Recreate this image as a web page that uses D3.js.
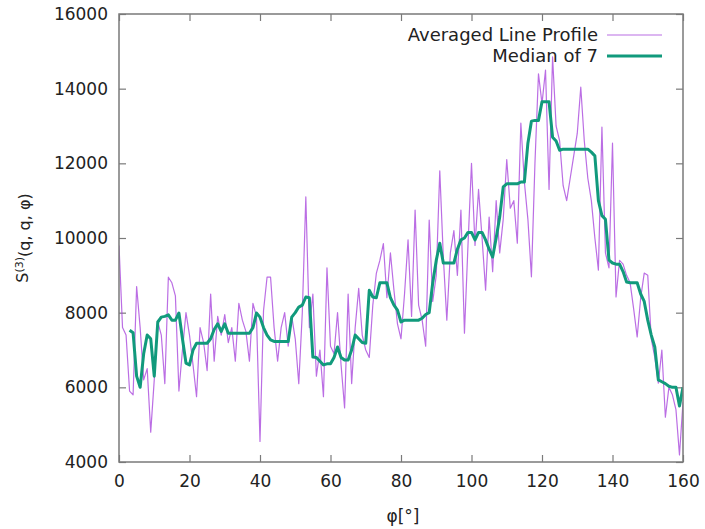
<!DOCTYPE html>
<html>
<head>
<meta charset="utf-8">
<script src="https://cdn.jsdelivr.net/npm/d3@7"></script>
<style>
  html, body { margin: 0; padding: 0; background: #fff; }
  svg { display: block; }
  text { font-family: "DejaVu Sans", sans-serif; fill: #222; }
</style>
</head>
<body>
<svg id="chart" width="705" height="529"></svg>
<script>
// ---- data ----
const profilePhi = d3.range(0, 161); // 0..160 degrees, 1° step (category positions)
const profileValues = [
  9800, 7600, 7400, 5900, 5800, 8700, 7600, 6200, 6500, 4800,
  6200, 7750, 7400, 6100, 8950, 8800, 8450, 5900, 7000, 8000,
  7400, 6600, 5750, 7600, 7200, 6450, 8500, 6700, 7900, 7400,
  7950, 7200, 7600, 6700, 8250, 7800, 7500, 6700, 8250, 7900,
  4550, 8050, 8950, 8950, 7600, 6700, 7600, 8000, 7100, 7900,
  7300, 6100, 8000, 11100, 7600, 8500, 6300, 7000, 5750, 9200,
  7100, 6900, 8000, 6600, 5450, 8500, 6100, 7600, 8650, 7400,
  7000, 6800, 8200, 9050, 9400, 9850, 8400, 9600, 8600, 7700,
  7300, 8500, 9950, 7900, 10750, 8200, 7800, 7100, 10480, 8300,
  9000, 11800, 9500, 7800, 9600, 10200, 9000, 10750, 7450, 9800,
  12000, 9800, 11300, 10000, 8600, 10560, 9100, 11000, 9600, 10500,
  12100, 10800, 11000, 9860, 13080, 11500, 10500, 8960, 12000, 14400,
  13600, 14500, 11300, 14850, 13000, 12600, 11400, 11000, 11600, 12200,
  12800, 14040, 12600, 11600, 11000, 10000, 9140, 12970, 9600, 9200,
  12540, 8420, 9400, 9300, 9000, 8800, 8100, 7350, 8400, 9060,
  9000, 7300, 6800, 6110, 7000, 5200, 6000, 5800, 5400, 4190,
  5600
];
const medianPhi = d3.range(3, 161);
const medianValues = [
  7530, 7460, 6300, 6000, 6900, 7400, 7300, 6300, 7750, 7880,
  7900, 7940, 7800, 7800, 7990, 7300, 6650, 6600, 7000, 7180,
  7180, 7180, 7180, 7300, 7550, 7700, 7500, 7700, 7450, 7450,
  7450, 7450, 7450, 7450, 7450, 7600, 7990, 7880, 7600, 7400,
  7270, 7230, 7230, 7230, 7230, 7230, 7880, 8000, 8150, 8200,
  8420, 8400, 6810, 6800, 6700, 6600, 6630, 6630, 6800, 7080,
  6800, 6730, 6730, 7000, 7400, 7300, 7200, 7180, 8600, 8420,
  8400, 8800, 8800, 8800, 8400, 8200, 8070, 7750, 7800, 7800,
  7800, 7800, 7800, 7850, 7950, 8000, 8800, 9400, 9860, 9330,
  9330, 9330, 9330, 9700, 9950, 10000, 10150, 10150, 9950, 10150,
  10150, 9950, 9700, 9490, 10000, 10560, 11370, 11450, 11450, 11450,
  11450, 11500, 11500, 12540, 13130, 13150, 13150, 13650, 13650, 13650,
  12700, 12600, 12350, 12380, 12380, 12380, 12380, 12380, 12380, 12380,
  12380, 12300, 12200, 11000, 10600, 10500, 9410, 9330, 9300, 9300,
  9100, 8820, 8800, 8800, 8800, 8500, 8300, 7800, 7400, 7080,
  6200, 6150, 6100, 6030, 6000, 6000, 5500, 6000
];
const xTicks = [0, 20, 40, 60, 80, 100, 120, 140, 160];
const yTicks = [4000, 6000, 8000, 10000, 12000, 14000, 16000];
const seriesNames = ["Averaged Line Profile", "Median of 7"];
const seriesColors = ["#a43ddb", "#119a7c"];

// ---- layout ----
const svg = d3.select("#chart");
const L = 119, R = 683, T = 14, B = 462;
const x = d3.scaleLinear().domain([0, 160]).range([L, R]);
const y = d3.scaleLinear().domain([4000, 16000]).range([B, T]);

const borderColor = "#7a7a7a";
const tickLen = 7;
const fontSize = "17px";

// clip
svg.append("defs").append("clipPath").attr("id", "clip")
  .append("rect").attr("x", L).attr("y", T).attr("width", R - L).attr("height", B - T);

// axes (ticks inward, mirrored)
const axB = d3.axisBottom(x).tickValues(xTicks).tickSize(-tickLen).tickPadding(13).tickFormat(d3.format("d"));
const axT = d3.axisTop(x).tickValues(xTicks).tickSize(-tickLen).tickFormat("");
const axL = d3.axisLeft(y).tickValues(yTicks).tickSize(-tickLen).tickPadding(11).tickFormat(d3.format("d"));
const axR = d3.axisRight(y).tickValues(yTicks).tickSize(-tickLen).tickFormat("");

function styleAxis(g) {
  g.select(".domain").remove();
  g.selectAll(".tick line").attr("stroke", borderColor).attr("stroke-width", 1.2);
  g.selectAll(".tick text").style("font-family", '"DejaVu Sans", sans-serif')
    .style("font-size", fontSize).attr("fill", "#222");
}
svg.append("g").attr("transform", `translate(0,${B})`).call(axB).call(styleAxis);
svg.append("g").attr("transform", `translate(0,${T})`).call(axT).call(styleAxis);
svg.append("g").attr("transform", `translate(${L},0)`).call(axL).call(styleAxis);
svg.append("g").attr("transform", `translate(${R},0)`).call(axR).call(styleAxis);

// lines
const line = d3.line().x(d => x(d[0])).y(d => y(d[1]));
const profile = profilePhi.map((p, i) => [p, profileValues[i]]);
const median = medianPhi.map((p, i) => [p, medianValues[i]]);

const plot = svg.append("g").attr("clip-path", "url(#clip)");
plot.append("path").datum(profile).attr("d", line)
  .attr("fill", "none").attr("stroke", seriesColors[0]).attr("stroke-width", 1.2)
  .attr("stroke-opacity", 0.75).attr("stroke-linejoin", "round");
plot.append("path").datum(median).attr("d", line)
  .attr("fill", "none").attr("stroke", seriesColors[1]).attr("stroke-width", 3)
  .attr("stroke-linejoin", "round");

// border
svg.append("rect").attr("x", L).attr("y", T).attr("width", R - L).attr("height", B - T)
  .attr("fill", "none").attr("stroke", borderColor).attr("stroke-width", 1.5);

// legend
const legend = svg.append("g");
seriesNames.forEach((name, i) => {
  const ly = 35 + i * 21;
  legend.append("text").attr("x", 598).attr("y", ly).attr("dy", "0.35em")
    .attr("text-anchor", "end").style("font-size", "18px").text(name);
  legend.append("line").attr("x1", 607).attr("x2", 662).attr("y1", ly).attr("y2", ly)
    .attr("stroke", seriesColors[i]).attr("stroke-width", i === 0 ? 1.2 : 3)
    .attr("stroke-opacity", i === 0 ? 0.75 : 1);
});

// axis labels
svg.append("text").attr("x", (L + R) / 2 + 2).attr("y", 522)
  .attr("text-anchor", "middle").style("font-size", fontSize).text("φ[°]");
const yl = svg.append("text").attr("transform", `translate(28,${(T + B) / 2}) rotate(-90)`)
  .attr("text-anchor", "middle").style("font-size", "16px");
yl.append("tspan").text("S");
yl.append("tspan").attr("dy", "-0.45em").style("font-size", "11px").text("(3)");
yl.append("tspan").attr("dy", "0.45em").text("(q, q, φ)");
</script>
</body>
</html>
